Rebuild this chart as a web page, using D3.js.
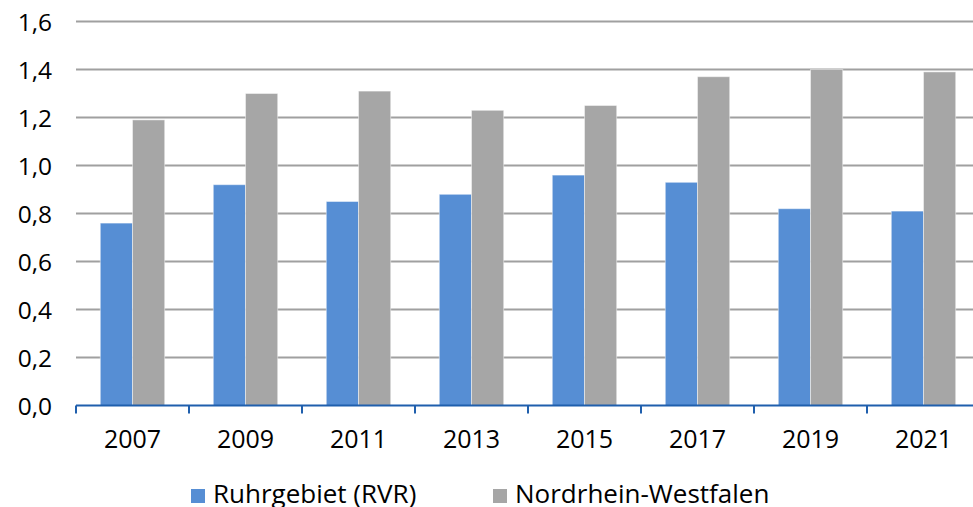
<!DOCTYPE html>
<html>
<head>
<meta charset="utf-8">
<script src="https://cdn.jsdelivr.net/npm/d3@7"></script>
<style>
  html, body { margin: 0; padding: 0; background: #fff; overflow: hidden; }
  svg { display: block; font-family: "Open Sans", "Noto Sans", sans-serif; }
</style>
</head>
<body>
<svg id="chart" width="973" height="507"></svg>
<script>
// Jahre auf der Kategorienachse
const years = ["2007", "2009", "2011", "2013", "2015", "2017", "2019", "2021"];
// Reihen
const seriesNames = ["Ruhrgebiet (RVR)", "Nordrhein-Westfalen"];
const ruhrgebiet = [0.76, 0.92, 0.85, 0.88, 0.96, 0.93, 0.82, 0.81];
const nrw = [1.19, 1.30, 1.31, 1.23, 1.25, 1.37, 1.40, 1.39];
// Werteachse
const yTicks = [0, 0.2, 0.4, 0.6, 0.8, 1.0, 1.2, 1.4, 1.6];
const seriesColors = ["#568ed4", "#a6a6a6"];

const svg = d3.select("#chart");
const plot = { left: 76, right: 980, top: 21.5, bottom: 405.5 };
const fontStack = "'Open Sans', 'Noto Sans', sans-serif";

const x = d3.scaleBand()
  .domain(years)
  .range([plot.left, plot.right])
  .paddingInner(0.43)
  .paddingOuter(0.215);

const xSub = d3.scaleBand()
  .domain(seriesNames)
  .range([0, x.bandwidth()]);

const y = d3.scaleLinear()
  .domain([0, 1.6])
  .range([plot.bottom, plot.top]);

const fmt = v => d3.format(".1f")(v).replace(".", ",");

// Gitterlinien
svg.append("g")
  .selectAll("line")
  .data(yTicks.filter(t => t > 0))
  .join("line")
  .attr("x1", plot.left)
  .attr("x2", 973)
  .attr("y1", d => y(d))
  .attr("y2", d => y(d))
  .attr("stroke", "#a0a0a0")
  .attr("stroke-width", 2);

// Y-Achsenbeschriftung
const yAxis = d3.axisLeft(y).tickValues(yTicks).tickFormat(fmt).tickSize(0).tickPadding(24);
const gy = svg.append("g").attr("transform", `translate(${plot.left},0)`).call(yAxis);
gy.select(".domain").remove();
gy.selectAll("text")
  .attr("font-size", 24.5)
  .attr("fill", "#000")
  .attr("dy", "0.36em")
  .style("font-family", fontStack);

// Balken
const rows = years.map((yr, i) => ({ year: yr, values: [ruhrgebiet[i], nrw[i]] }));
const groups = svg.append("g")
  .selectAll("g")
  .data(rows)
  .join("g")
  .attr("transform", d => `translate(${x(d.year)},0)`);

groups.selectAll("rect")
  .data(d => d.values.map((v, k) => ({ name: seriesNames[k], value: v, k })))
  .join("rect")
  .attr("x", d => xSub(d.name))
  .attr("width", xSub.bandwidth())
  .attr("y", d => y(d.value))
  .attr("height", d => y(0) - y(d.value))
  .attr("fill", d => seriesColors[d.k])
  .attr("stroke", "rgba(255,255,255,0.45)")
  .attr("stroke-width", 1);

// X-Achse mit Teilstrichen an den Kategoriegrenzen
const boundaries = d3.range(years.length + 1).map(i => plot.left + i * x.step());
svg.append("line")
  .attr("x1", plot.left)
  .attr("x2", 973)
  .attr("y1", plot.bottom)
  .attr("y2", plot.bottom)
  .attr("stroke", "#1f5fad")
  .attr("stroke-width", 2);
svg.append("g")
  .selectAll("line")
  .data(boundaries)
  .join("line")
  .attr("x1", d => d)
  .attr("x2", d => d)
  .attr("y1", plot.bottom)
  .attr("y2", plot.bottom + 8)
  .attr("stroke", "#1f5fad")
  .attr("stroke-width", 2);

const xAxis = d3.axisBottom(x).tickSize(0).tickPadding(0);
const gx = svg.append("g").attr("transform", `translate(0,${plot.bottom})`).call(xAxis);
gx.select(".domain").remove();
gx.selectAll("text")
  .attr("y", 42.5)
  .attr("dy", 0)
  .attr("font-size", 25)
  .attr("fill", "#000")
  .style("font-family", fontStack);

// Legende
const legendX = [191, 493];
const legend = svg.append("g")
  .selectAll("g")
  .data(seriesNames)
  .join("g")
  .attr("transform", (d, i) => `translate(${legendX[i]},489)`);
legend.append("rect")
  .attr("width", 14)
  .attr("height", 14)
  .attr("fill", (d, i) => seriesColors[i]);
legend.append("text")
  .attr("x", 22)
  .attr("y", 13.5)
  .attr("font-size", 26)
  .attr("fill", "#000")
  .style("font-family", fontStack)
  .text(d => d);
</script>
</body>
</html>
